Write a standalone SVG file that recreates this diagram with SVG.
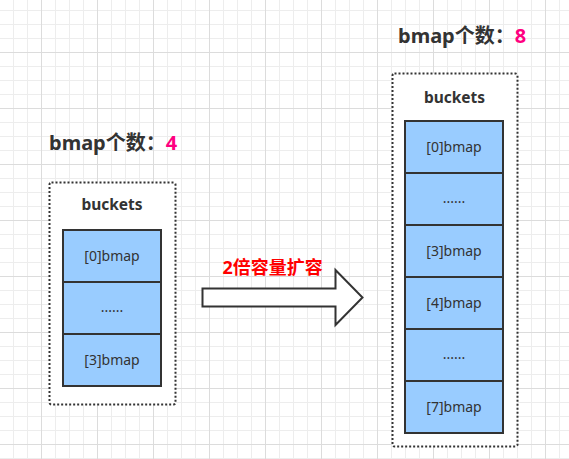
<svg xmlns="http://www.w3.org/2000/svg" width="569" height="459" viewBox="0 0 569 459">
<style>
.title{font-family:"Noto Sans","Noto Sans CJK SC",sans-serif;font-weight:bold;font-size:20px;fill:#333333}
.num{fill:#FF0080}
.bk{font-family:"Noto Sans",sans-serif;font-weight:bold;font-size:15.5px;fill:#333333;text-anchor:middle}
.cell{fill:#99CCFF;stroke:#333333;stroke-width:2}
.ct{font-family:"Noto Sans",sans-serif;font-size:14px;fill:#333333;text-anchor:middle}
.box{fill:#ffffff;stroke:#333333;stroke-width:2;stroke-dasharray:2 2}
.lbl{font-family:"Noto Sans","Noto Sans CJK SC",sans-serif;font-weight:bold;font-size:18px;fill:#FF0000}
</style>
<defs>
<pattern id="grid" x="-15" y="-4" width="56" height="56" patternUnits="userSpaceOnUse">
<rect x="0" y="0" width="56" height="56" fill="#ffffff"/>
<rect x="14" y="0" width="1" height="56" fill="#ededed"/>
<rect x="28" y="0" width="1" height="56" fill="#ededed"/>
<rect x="42" y="0" width="1" height="56" fill="#ededed"/>
<rect x="0" y="14" width="56" height="1" fill="#ededed"/>
<rect x="0" y="28" width="56" height="1" fill="#ededed"/>
<rect x="0" y="42" width="56" height="1" fill="#ededed"/>
<rect x="0" y="0" width="1" height="56" fill="#dcdcdc"/>
<rect x="0" y="0" width="56" height="1" fill="#dcdcdc"/>
</pattern>
</defs>
<rect x="0" y="0" width="569" height="459" fill="url(#grid)"/>

<g id="left-title">
<text class="title" x="49" y="150">bmap个数：<tspan class="num">4</tspan></text>
</g>
<g id="left-buckets">
<rect class="box" x="49.5" y="182.5" width="126" height="222" rx="2"/>
<text class="bk" x="112" y="210">buckets</text>
</g>
<g id="left-cell-0">
<rect class="cell" x="63" y="230" width="98" height="52"/>
<text class="ct" x="112" y="261">[0]bmap</text>
</g>
<g id="left-cell-dots">
<rect class="cell" x="63" y="282" width="98" height="52"/>
<text class="ct" x="112" y="312">......</text>
</g>
<g id="left-cell-3">
<rect class="cell" x="63" y="334" width="98" height="52"/>
<text class="ct" x="112" y="365">[3]bmap</text>
</g>

<g id="connectors">
<path d="M202.5,288.5 L335.5,288.5 L335.5,270 L362.5,297.5 L335.5,325 L335.5,306.5 L202.5,306.5 Z" fill="#ffffff" stroke="#333333" stroke-width="2" stroke-linejoin="miter"/>
<text class="lbl" x="222.5" y="274">2倍容量扩容</text>
</g>

<g id="right-title">
<text class="title" x="398" y="43">bmap个数：<tspan class="num">8</tspan></text>
</g>
<g id="right-buckets">
<rect class="box" x="392.5" y="73.5" width="125" height="373" rx="2"/>
<text class="bk" x="454.5" y="102.5">buckets</text>
</g>
<g id="right-cell-0">
<rect class="cell" x="405" y="121" width="98" height="52"/>
<text class="ct" x="454" y="152">[0]bmap</text>
</g>
<g id="right-cell-dots1">
<rect class="cell" x="405" y="173" width="98" height="52"/>
<text class="ct" x="454" y="203">......</text>
</g>
<g id="right-cell-3">
<rect class="cell" x="405" y="225" width="98" height="52"/>
<text class="ct" x="454" y="256">[3]bmap</text>
</g>
<g id="right-cell-4">
<rect class="cell" x="405" y="277" width="98" height="52"/>
<text class="ct" x="454" y="308">[4]bmap</text>
</g>
<g id="right-cell-dots2">
<rect class="cell" x="405" y="329" width="98" height="52"/>
<text class="ct" x="454" y="359">......</text>
</g>
<g id="right-cell-7">
<rect class="cell" x="405" y="381" width="98" height="52"/>
<text class="ct" x="454" y="412">[7]bmap</text>
</g>
</svg>
